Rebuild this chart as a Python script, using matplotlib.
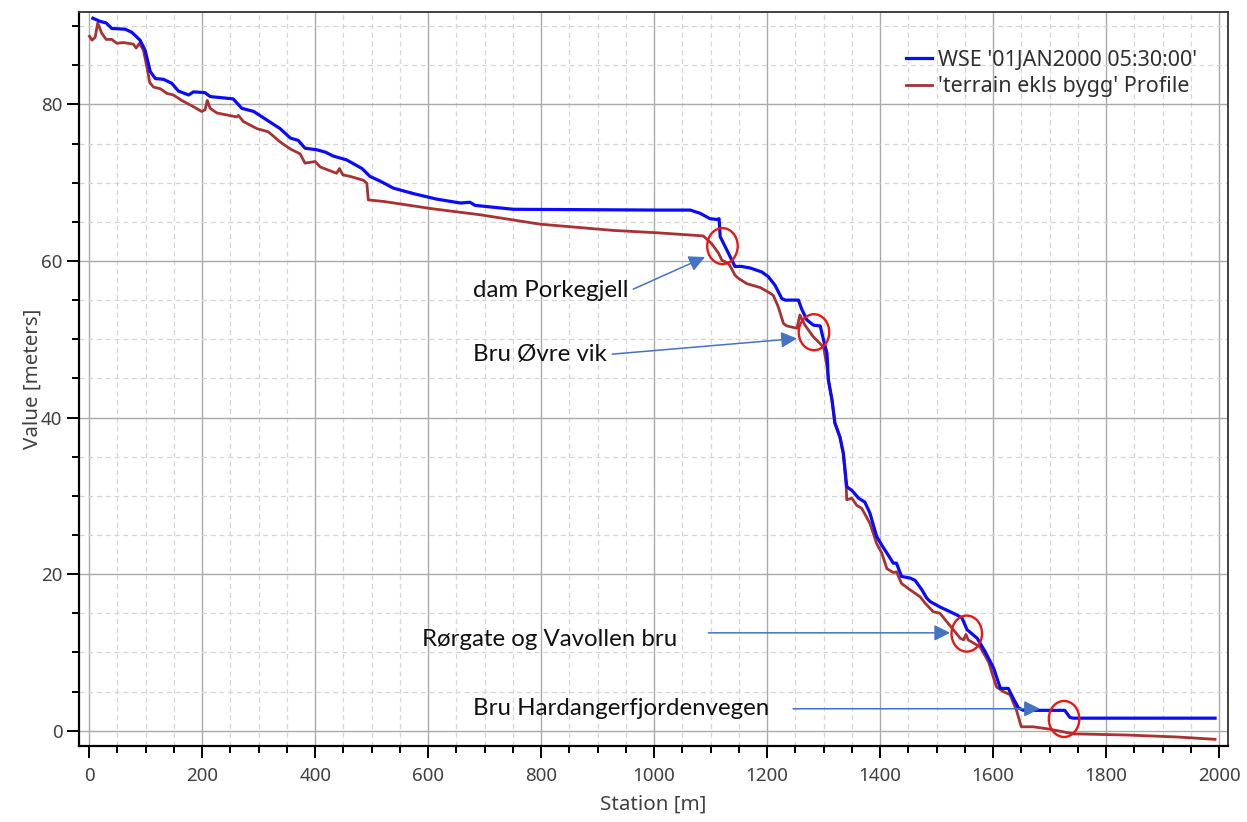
import matplotlib.pyplot as plt
from matplotlib.patches import Ellipse, FancyArrowPatch
from matplotlib.ticker import MultipleLocator

# WSE profile (blue)
wse_station = [6.5, 19.5, 30, 40, 64, 75.5, 90, 99, 108, 117, 131.5, 146, 158, 176, 184.6,
               205, 214, 255, 270, 291, 314.5, 338, 356, 370, 382, 403, 418, 432, 456, 483,
               497, 515, 538.6, 574, 615, 657, 674, 683, 751, 1005, 1064, 1081, 1099, 1111,
               1115, 1117, 1131.5, 1143, 1155, 1170, 1190.5, 1202, 1214, 1226, 1232, 1255.5,
               1261, 1270, 1282, 1294, 1300, 1306, 1308.5, 1315, 1320, 1329, 1335, 1341, 1344,
               1350, 1362, 1373, 1382, 1394, 1403, 1412, 1423.5, 1429, 1438, 1453, 1462, 1474,
               1482, 1488.5, 1506, 1518, 1535.5, 1545, 1554, 1572, 1586, 1601, 1613, 1627,
               1636, 1645, 1654, 1727, 1736, 1742, 1993]
wse_value = [91.0, 90.6, 90.4, 89.7, 89.6, 89.2, 88.2, 86.9, 84.2, 83.3, 83.2, 82.7, 81.7, 81.2, 81.6,
             81.5, 81.0, 80.7, 79.5, 79.1, 78.0, 76.9, 75.7, 75.4, 74.4, 74.2, 73.9, 73.4, 72.9, 71.8,
             70.8, 70.2, 69.3, 68.6, 67.9, 67.4, 67.5, 67.1, 66.6, 66.5, 66.5, 66.1, 65.4, 65.3,
             65.4, 63.1, 61.0, 59.3, 59.3, 59.1, 58.6, 58.0, 56.9, 55.2, 55.0, 55.0,
             53.9, 52.5, 51.8, 51.7, 49.9, 48.2, 44.8, 42.2, 39.3, 37.5, 35.4, 31.2, 31.0,
             30.7, 29.7, 29.2, 27.8, 24.8, 23.7, 22.7, 21.4, 21.4, 19.7, 19.5, 19.2, 18.0,
             17.0, 16.5, 15.8, 15.4, 14.8, 14.4, 12.9, 11.8, 10.1, 8.0, 5.4, 5.4,
             4.1, 2.9, 2.6, 2.6, 1.7, 1.6, 1.6]

# terrain profile (red)
terrain_station = [0.5, 5, 10.6, 15, 22, 30, 40, 49, 60, 78, 83, 89, 96, 102, 107, 114, 126,
                   137.5, 149, 164, 184.6, 199, 205, 209, 214, 226, 261, 264, 273, 297, 317,
                   338, 356, 373, 382, 400, 409, 438, 443, 449, 462, 485.5, 491.5, 494, 521,
                   586, 604, 692, 798, 928, 1005, 1087, 1102, 1114, 1120, 1131, 1135, 1143,
                   1149, 1164, 1188, 1205, 1211, 1220, 1229, 1235, 1253, 1258, 1267, 1282,
                   1300, 1306, 1308.5, 1315, 1320, 1329, 1335, 1340, 1341, 1350, 1358.5,
                   1367.5, 1382, 1394, 1403, 1412, 1423.5, 1429, 1438, 1453, 1471, 1479.6,
                   1494, 1506, 1524, 1542, 1548, 1552, 1556, 1577, 1592, 1606, 1618, 1630,
                   1641.5, 1650, 1671, 1700, 1742, 1836, 1925, 1993]
terrain_value = [88.7, 88.2, 88.6, 90.4, 89.1, 88.3, 88.3, 87.8, 87.9, 87.7, 87.2, 87.8, 86.9, 84.8, 82.8, 82.2, 82.0,
                 81.4, 81.2, 80.5, 79.7, 79.1, 79.3, 80.5, 79.5, 78.9, 78.4, 78.6, 77.8, 76.9, 76.5,
                 75.2, 74.3, 73.7, 72.5, 72.7, 72.0, 71.2, 71.8, 71.0, 70.8, 70.3, 69.9, 67.8, 67.6,
                 66.9, 66.7, 65.9, 64.7, 63.9, 63.6, 63.2, 62.2, 61.0, 60.1, 59.7, 59.3, 58.2,
                 57.8, 57.1, 56.6, 55.9, 55.6, 54.1, 52.0, 51.7, 51.4, 53.1, 51.8, 50.3,
                 49.0, 46.5, 44.8, 42.2, 39.3, 37.5, 35.4, 31.2, 29.5, 29.7, 28.8,
                 28.4, 26.5, 23.9, 22.7, 20.7, 20.2, 20.3, 18.8, 18.0, 17.1, 16.3,
                 15.2, 15.0, 13.4, 11.8, 11.6, 12.3, 11.6, 10.7, 8.8, 5.6, 5.0, 4.6,
                 2.6, 0.5, 0.5, 0.2, -0.4, -0.55, -0.8, -1.1]

# annotations: text, text position, arrow tail/tip, circle centre
ann_labels = ["dam Porkegjell", "Bru Øvre vik", "Rørgate og Vavollen bru", "Bru Hardangerfjordenvegen"]
ann_text_xy = [(680, 56.2), (680, 48.0), (589, 11.6), (680, 2.8)]
ann_tail_xy = [(963, 56.4), (926, 48.1), (1096, 12.5), (1246, 2.8)]
ann_tip_xy = [(1090, 60.5), (1253, 50.1), (1524, 12.5), (1683, 2.8)]
circle_xy = [(1121, 61.9), (1283, 50.9), (1553.5, 12.4), (1725.7, 1.5)]

fig = plt.figure(figsize=(12.47, 8.22), dpi=100)
ax = fig.add_axes([0.0634, 0.0925, 0.9214, 0.8929])

ax.plot(wse_station, wse_value, color="#0a0aff", lw=2.3, label="WSE '01JAN2000 05:30:00'", zorder=4)
ax.plot(terrain_station, terrain_value, color="#a83232", lw=2.0, label="'terrain ekls bygg' Profile", zorder=3)

ax.set_xlim(-18, 2016)
ax.set_ylim(-1.95, 91.8)
ax.xaxis.set_major_locator(MultipleLocator(200))
ax.xaxis.set_minor_locator(MultipleLocator(50))
ax.yaxis.set_major_locator(MultipleLocator(20))
ax.yaxis.set_minor_locator(MultipleLocator(5))

ax.grid(which="major", color="#aaaaaa", lw=1.0, ls="-", zorder=0)
ax.grid(which="minor", color="#d6d6d6", lw=0.9, ls=(0, (4, 3)), zorder=0)

ax.tick_params(which="major", length=8.5, width=1.4, color="black",
               labelsize=13.5, labelcolor="#404040")
ax.tick_params(axis="x", which="major", pad=6.5)
ax.tick_params(which="minor", length=5, width=1.4, color="black")
for lab in ax.get_xticklabels() + ax.get_yticklabels():
    lab.set_fontfamily("Noto Sans")

for side in ["left", "bottom"]:
    ax.spines[side].set_linewidth(1.6)
    ax.spines[side].set_color("black")
for side in ["top", "right"]:
    ax.spines[side].set_linewidth(1.3)
    ax.spines[side].set_color("#333333")

ax.set_xlabel("Station [m]", fontsize=14.8, color="#404040", family="Noto Sans", labelpad=7)
ax.set_ylabel("Value [meters]", fontsize=14.8, color="#404040", family="Noto Sans", labelpad=-1)

leg = ax.legend(loc="upper right", bbox_to_anchor=(0.99, 0.975), frameon=False,
                prop={"family": "Noto Sans", "size": 15.5}, handlelength=1.2,
                handletextpad=0.3, labelspacing=0.25, labelcolor="#303030")

# annotations
for lab, txy, tail, tip, cxy in zip(ann_labels, ann_text_xy, ann_tail_xy, ann_tip_xy, circle_xy):
    ax.text(txy[0], txy[1], lab, fontsize=17.3, family="Lato", color="#111111",
            ha="left", va="center", zorder=6)
    arr = FancyArrowPatch(tail, tip, arrowstyle="-|>", mutation_scale=24,
                          color="#4472c4", lw=1.1, shrinkA=0, shrinkB=0, zorder=6)
    ax.add_patch(arr)
    ax.add_patch(Ellipse(cxy, width=54, height=4.6, fill=False,
                         edgecolor="#e81818", lw=1.7, zorder=7))

fig.savefig("out.png", dpi=100)
